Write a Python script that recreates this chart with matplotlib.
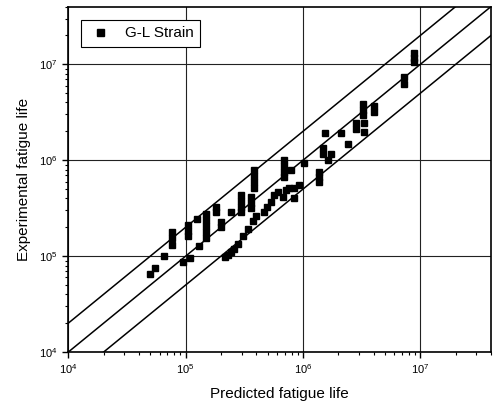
import matplotlib
matplotlib.use("Agg")
import matplotlib.pyplot as plt
import numpy as np

plt.rcParams['font.family'] = ['Liberation Sans', 'DejaVu Sans']
plt.rcParams['mathtext.default'] = 'regular'

# predicted vs experimental fatigue life (cycles)
predicted = [
    5.0e4, 5.5e4, 6.5e4, 7.6e4, 7.6e4, 7.6e4, 9.6e4, 1.1e5,
    1.04e5, 1.04e5, 1.04e5, 1.24e5, 1.29e5,
    1.5e5, 1.5e5, 1.5e5, 1.5e5, 1.5e5, 1.8e5, 1.8e5, 2.0e5, 2.0e5,
    2.42e5, 2.95e5, 2.95e5, 2.95e5, 2.95e5,
    3.8e5, 3.8e5, 3.8e5, 3.8e5, 3.6e5, 3.6e5, 3.6e5,
    2.15e5, 2.28e5, 2.42e5, 2.57e5, 2.78e5, 3.07e5, 3.39e5, 3.74e5, 3.96e5,
    4.64e5, 4.93e5, 5.33e5, 5.65e5, 6.11e5, 6.75e5, 7.16e5, 7.59e5, 8.38e5, 9.24e5, 8.38e5,
    6.9e5, 6.9e5, 6.9e5, 6.9e5, 7.9e5, 1.02e6,
    1.37e6, 1.37e6, 1.37e6, 1.48e6, 1.48e6, 1.73e6, 1.64e6,
    1.54e6, 2.11e6, 2.43e6, 2.84e6, 2.84e6, 3.3e6, 3.3e6,
    3.26e6, 3.26e6, 3.26e6, 4.05e6, 4.05e6,
    7.3e6, 7.3e6, 8.9e6, 8.9e6, 8.9e6,
]
experimental = [
    6.6e4, 7.5e4, 1.0e5, 1.78e5, 1.54e5, 1.3e5, 8.7e4, 9.5e4,
    2.1e5, 1.82e5, 1.62e5, 2.43e5, 1.27e5,
    2.74e5, 2.37e5, 2.05e5, 1.78e5, 1.54e5, 3.24e5, 2.87e5, 2.26e5, 2.0e5,
    2.87e5, 4.32e5, 3.74e5, 3.24e5, 2.87e5,
    7.87e5, 6.81e5, 5.9e5, 5.11e5, 4.12e5, 3.56e5, 3.16e5,
    9.8e4, 1.02e5, 1.1e5, 1.18e5, 1.33e5, 1.62e5, 1.91e5, 2.32e5, 2.61e5,
    2.87e5, 3.24e5, 3.65e5, 4.32e5, 4.64e5, 4.12e5, 4.87e5, 5.11e5, 5.11e5, 5.49e5, 4.02e5,
    1.0e6, 8.66e5, 7.5e5, 6.65e5, 7.87e5, 9.3e5,
    7.5e5, 6.65e5, 5.9e5, 1.33e6, 1.15e6, 1.15e6, 1.0e6,
    1.91e6, 1.91e6, 1.47e6, 2.43e6, 2.1e6, 2.43e6, 1.96e6,
    3.83e6, 3.32e6, 2.94e6, 3.65e6, 3.16e6,
    7.32e6, 6.19e6, 1.3e7, 1.15e7, 1.05e7,
]
band_factors = [2.0, 1.0, 0.5]
lim = (1e4, 4e7)

fig = plt.figure(figsize=(4.94, 4.09), dpi=100)
ax = fig.add_axes([0.138, 0.139, 0.856, 0.845])

line_x = np.array(lim)
for f in band_factors:
    ax.plot(line_x, line_x * f, color='black', lw=1.1, zorder=2)

ax.plot(predicted, experimental, 's', color='black', ms=4.2, ls='none',
        label='G-L Strain', zorder=3)

ax.set_xscale('log')
ax.set_yscale('log')
ax.set_xlim(*lim)
ax.set_ylim(*lim)
ax.set_xticks([1e4, 1e5, 1e6, 1e7])
ax.set_yticks([1e4, 1e5, 1e6, 1e7])
ax.grid(True, which='major', color='#222222', lw=0.8)
ax.tick_params(which='both', direction='out', labelsize=8, top=False, right=False)
ax.tick_params(which='major', length=4, width=1)
ax.tick_params(which='minor', length=2.5, width=0.8)
for s in ax.spines.values():
    s.set_linewidth(1.2)

ax.set_xlabel('Predicted fatigue life', fontsize=11, labelpad=8)
ax.set_ylabel('Experimental fatigue life', fontsize=11, labelpad=6)

leg = ax.legend(loc='upper left', fontsize=11, fancybox=False, framealpha=1,
                edgecolor='black', borderpad=0.45, handlelength=1.6,
                handletextpad=0.8, borderaxespad=0.85, markerscale=1.2)
leg.get_frame().set_linewidth(0.8)

fig.savefig('out.png', dpi=100)
